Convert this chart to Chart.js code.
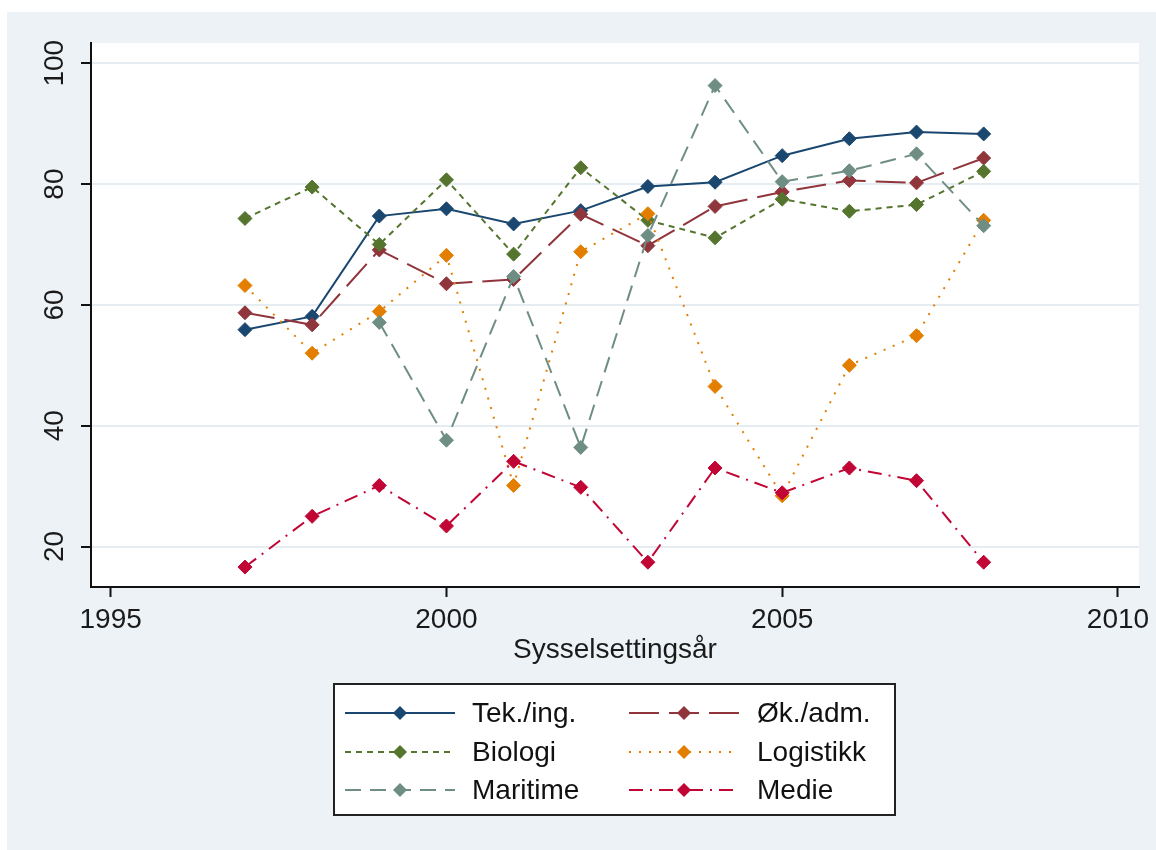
<!DOCTYPE html>
<html>
<head>
<meta charset="utf-8">
<script src="https://cdn.jsdelivr.net/npm/chart.js@4.4.1/dist/chart.umd.min.js"></script>
<style>
  html, body { margin: 0; padding: 0; background: #fff; }
  #wrap { width: 1156px; height: 850px; }
</style>
</head>
<body>
<div id="wrap"><canvas id="myChart" width="1156" height="850"></canvas></div>
<script>
// data
const years = [1997, 1998, 1999, 2000, 2001, 2002, 2003, 2004, 2005, 2006, 2007, 2008];
const tekIng = [55.9, 58.1, 74.7, 75.9, 73.4, 75.6, 79.6, 80.3, 84.7, 87.5, 88.6, 88.3];
const okAdm = [58.7, 56.7, 69.1, 63.5, 64.2, 75.0, 69.8, 76.3, 78.7, 80.6, 80.2, 84.3];
const biologi = [74.3, 79.5, 70.0, 80.7, 68.4, 82.7, 74.0, 71.1, 77.5, 75.5, 76.6, 82.1];
const logistikk = [63.2, 52.0, 58.9, 68.2, 30.1, 68.8, 75.1, 46.5, 28.4, 50.0, 54.9, 74.0];
const maritime = [null, null, 57.1, 37.6, 64.7, 36.4, 71.5, 96.3, 80.4, 82.2, 85.0, 73.1];
const medie = [16.6, 25.0, 30.1, 23.4, 34.1, 29.8, 17.4, 33.0, 28.9, 33.0, 30.9, 17.4];

const seriesNames = ['Tek./ing.', 'Øk./adm.', 'Biologi', 'Logistikk', 'Maritime', 'Medie'];
const xTicks = [1995, 2000, 2005, 2010];
const yTicks = [20, 40, 60, 80, 100];

const seriesValues = [tekIng, okAdm, biologi, logistikk, maritime, medie];
const colors = ['#1a476f', '#90353b', '#55752f', '#e37e00', '#6e8e84', '#c10534'];
const dashes = [[], [30, 10], [6, 5], [2, 8], [16, 9], [14, 7, 2, 7]];

const FONT = '"Liberation Sans", Arial, sans-serif';
const BG = '#edf2f6';

Chart.defaults.font.family = FONT;
Chart.defaults.color = '#1a1a1a';

const datasets = seriesNames.map((name, i) => ({
  label: name,
  data: years.map((yr, j) => ({ x: yr, y: seriesValues[i][j] })),
  borderColor: colors[i],
  backgroundColor: colors[i],
  borderWidth: 2,
  borderDash: dashes[i],
  pointStyle: 'rectRot',
  pointRadius: 7,
  pointBorderWidth: 1,
  pointBackgroundColor: colors[i],
  pointBorderColor: colors[i],
  tension: 0,
  order: seriesNames.length - i
}));

// grey graph region + white plot region
const backdrop = {
  id: 'backdrop',
  beforeDraw(chart) {
    const ctx = chart.ctx;
    const a = chart.chartArea;
    ctx.save();
    ctx.fillStyle = '#fff';
    ctx.fillRect(0, 0, chart.width, chart.height);
    ctx.fillStyle = BG;
    ctx.fillRect(7, 12, chart.width - 7, chart.height - 12);
    ctx.fillStyle = '#fff';
    ctx.fillRect(a.left, a.top, a.right - a.left, a.bottom - a.top);
    ctx.restore();
  }
};

// two-column boxed legend like the Stata one
const boxLegend = {
  id: 'boxLegend',
  afterDraw(chart) {
    const ctx = chart.ctx;
    const box = { x: 334, y: 684, w: 561, h: 131 };
    const colX = [345, 629];
    const rowY = [713, 752, 790];
    const textX = [472, 757];
    ctx.save();
    ctx.fillStyle = '#fff';
    ctx.fillRect(box.x, box.y, box.w, box.h);
    ctx.strokeStyle = '#222';
    ctx.lineWidth = 2;
    ctx.strokeRect(box.x, box.y, box.w, box.h);
    chart.data.datasets.forEach((ds, i) => {
      const c = i % 2;
      const r = Math.floor(i / 2);
      const x0 = colX[c];
      const x1 = x0 + 110;
      const y = rowY[r];
      ctx.strokeStyle = ds.borderColor;
      ctx.lineWidth = 2;
      ctx.setLineDash(ds.borderDash);
      ctx.beginPath();
      ctx.moveTo(x0, y);
      ctx.lineTo(x1, y);
      ctx.stroke();
      ctx.setLineDash([]);
      const mx = (x0 + x1) / 2;
      const s = 7;
      ctx.fillStyle = ds.borderColor;
      ctx.beginPath();
      ctx.moveTo(mx, y - s);
      ctx.lineTo(mx + s, y);
      ctx.lineTo(mx, y + s);
      ctx.lineTo(mx - s, y);
      ctx.closePath();
      ctx.fill();
      ctx.fillStyle = '#111';
      ctx.font = '28px ' + FONT;
      ctx.textAlign = 'left';
      ctx.textBaseline = 'middle';
      ctx.fillText(ds.label, textX[c], y + 1);
    });
    ctx.restore();
  }
};

const ctx = document.getElementById('myChart').getContext('2d');
const chart = new Chart(ctx, {
  type: 'line',
  data: { datasets },
  plugins: [backdrop, boxLegend],
  options: {
    responsive: false,
    animation: false,
    devicePixelRatio: 1,
    layout: { padding: { left: 0, top: 43, right: 17, bottom: 183 } },
    plugins: {
      legend: { display: false },
      tooltip: { enabled: false }
    },
    scales: {
      x: {
        type: 'linear',
        min: 1994.707,
        max: 2010.313,
        afterBuildTicks: (scale) => { scale.ticks = xTicks.map(v => ({ value: v })); },
        afterFit: (scale) => { scale.height = 80; },
        grid: {
          drawOnChartArea: false,
          drawTicks: true,
          tickLength: 10,
          tickColor: '#111',
          tickWidth: 2
        },
        border: { display: true, color: '#111', width: 2 },
        ticks: {
          font: { size: 28 },
          color: '#1a1a1a',
          padding: 6,
          maxRotation: 0,
          callback: (v) => String(v)
        },
        title: {
          display: true,
          text: 'Sysselsettingsår',
          font: { size: 28, lineHeight: 1.2 },
          color: '#1a1a1a',
          padding: { top: 0, bottom: 0 }
        }
      },
      y: {
        type: 'linear',
        min: 13.3,
        max: 103.35,
        afterBuildTicks: (scale) => { scale.ticks = yTicks.map(v => ({ value: v })); },
        afterFit: (scale) => { scale.width = 91; },
        grid: {
          color: '#e6edf2',
          lineWidth: 2,
          drawTicks: true,
          tickLength: 10,
          tickColor: '#111',
          tickWidth: 2
        },
        border: { display: true, color: '#111', width: 2 },
        ticks: {
          font: { size: 28 },
          color: '#1a1a1a',
          padding: 2,
          minRotation: 90,
          maxRotation: 90,
          crossAlign: 'center',
          callback: (v) => String(v)
        }
      }
    }
  }
});
</script>
</body>
</html>
